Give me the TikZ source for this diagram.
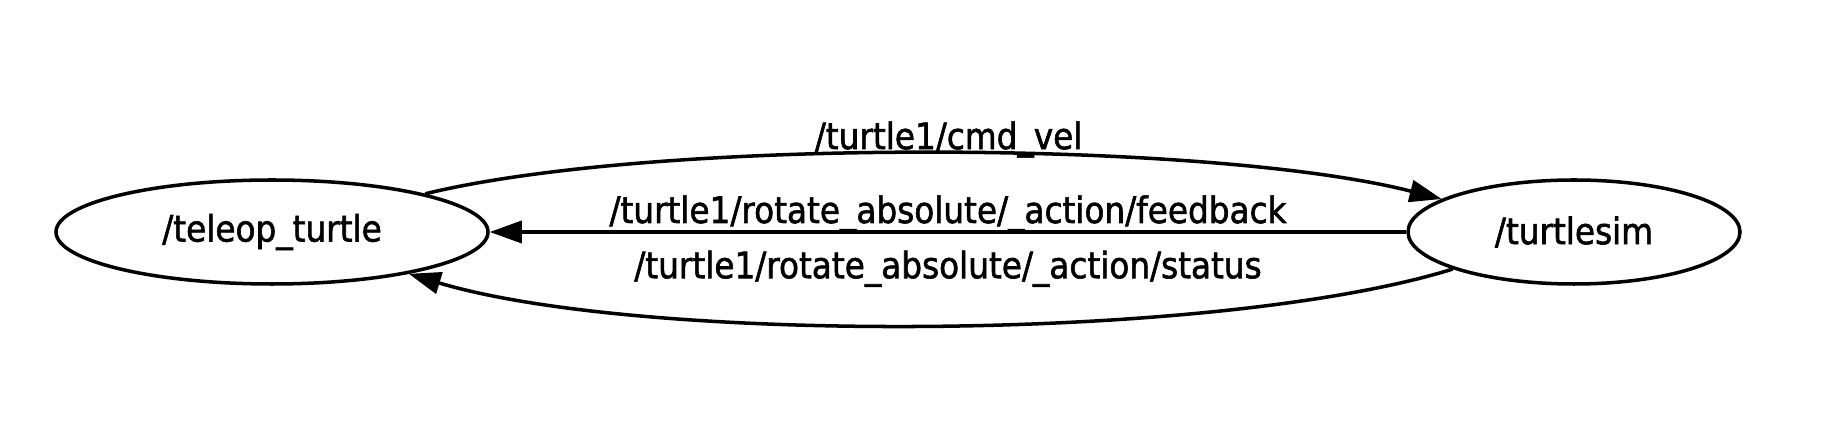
\documentclass[tikz,border=0pt]{standalone}
\usepackage{fontspec}
\setmainfont{DejaVu Sans Condensed}[FakeBold=1.6]
\usetikzlibrary{arrows.meta,positioning,shapes.geometric}
\begin{document}
\begin{tikzpicture}[-{Triangle[length=3.2mm,width=2.2mm]},line width=1pt,font=\fontsize{10.35}{12}\selectfont]
                \useasboundingbox (0,0) rectangle (18.24,4.36);
                \node (tel) [draw,ellipse,minimum width=4.32cm,minimum height=1.04cm,inner sep=0pt] at (2.72,2.04) {/teleop\_turtle};
                \node (sim) [draw,ellipse,minimum width=3.32cm,minimum height=1.04cm,inner sep=0pt,right of=tel,node distance=13.02cm] {/turtlesim};

                \path[every node/.style={anchor=base,inner sep=0pt}]
                (tel) edge [bend left=14,looseness=0.6] node[xshift=0.15cm,yshift=0.04cm] {/turtle1/cmd\_vel} (sim)
                (sim) edge node[yshift=0.09cm] {/turtle1/rotate\_absolute/\_action/feedback} (tel)
                (sim) edge [bend left=17,looseness=0.6] node[xshift=0.17cm,yshift=0.47cm] {/turtle1/rotate\_absolute/\_action/status} (tel);
            \end{tikzpicture}
\end{document}
